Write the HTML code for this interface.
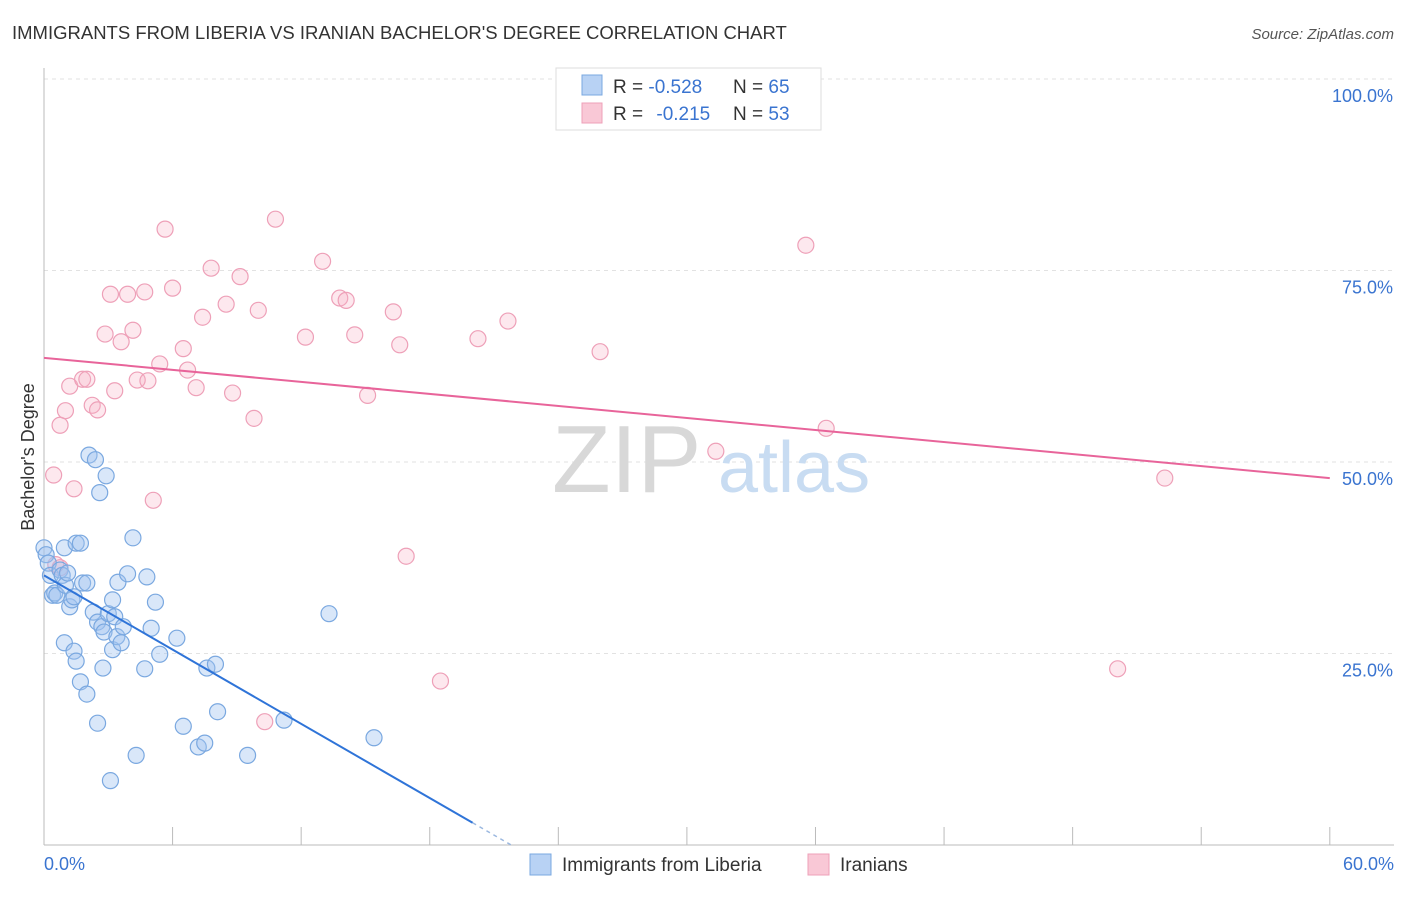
<!DOCTYPE html>
<html><head><meta charset="utf-8"><style>
body{margin:0;background:#fff;font-family:"Liberation Sans",sans-serif;}
svg text{font-family:"Liberation Sans",sans-serif;}
</style></head><body>
<svg id="chart" width="1406" height="892">
<text x="12" y="39" font-size="18.5" fill="#333">IMMIGRANTS FROM LIBERIA VS IRANIAN BACHELOR'S DEGREE CORRELATION CHART</text>
<text x="1394" y="39" font-size="15" fill="#555" font-style="italic" text-anchor="end">Source: ZipAtlas.com</text>
<g id="grid"></g>
<g>
<text x="552" y="492" font-size="96" font-family="Liberation Serif" fill="#d8d8d8">ZIP</text>
<text x="718" y="492" font-size="72" fill="#c8dcf2">atlas</text>
</g>
<line x1="44" y1="68" x2="44" y2="845" stroke="#bbb"/>
<line x1="44" y1="845" x2="1394" y2="845" stroke="#bbb"/>
<g id="xticks"></g>
<g id="yticks"></g>
<text x="44" y="870" font-size="18" fill="#3a74d0">0.0%</text>
<text x="1394" y="870" font-size="18" fill="#3a74d0" text-anchor="end">60.0%</text>
<text transform="translate(34,457) rotate(-90)" font-size="18" fill="#333" text-anchor="middle">Bachelor's Degree</text>
<g id="pink"></g>
<g id="blue"></g>
<g id="lines"></g>
<g>
<rect x="556" y="68" width="265" height="62" fill="#fff" stroke="#ddd"/>
<rect x="582" y="75" width="20" height="20" fill="#b8d2f4" stroke="#7aa8e0"/>
<rect x="582" y="103" width="20" height="20" fill="#f9c8d6" stroke="#eea0b8"/>
<text x="613" y="93" font-size="19" fill="#333">R = <tspan fill="#3a74d0">-0.528</tspan><tspan x="733">N = </tspan><tspan fill="#3a74d0">65</tspan></text>
<text x="613" y="120" font-size="19" fill="#333">R = <tspan fill="#3a74d0" dx="8">-0.215</tspan><tspan x="733">N = </tspan><tspan fill="#3a74d0">53</tspan></text>
</g>
<g>
<rect x="530" y="854" width="21" height="21" fill="#b8d2f4" stroke="#7aa8e0"/>
<text x="562" y="871" font-size="19" fill="#333">Immigrants from Liberia</text>
<rect x="808" y="854" width="21" height="21" fill="#f9c8d6" stroke="#eea0b8"/>
<text x="840" y="871" font-size="19" fill="#333">Iranians</text>
</g>
</svg>
<script>
const blueX=[0,0.1,0.2,0.3,0.4,0.5,0.6,0.75,0.85,0.95,1.0,1.1,1.2,1.3,1.4,1.5,1.7,1.8,2.0,0.95,1.4,1.5,1.7,2.0,2.1,2.3,2.4,2.5,2.5,2.6,2.7,2.75,2.8,2.9,3.0,3.1,3.2,3.2,3.3,3.4,3.45,3.6,3.7,3.9,4.15,4.3,4.7,4.8,5.0,5.2,5.4,6.2,6.5,7.2,7.5,7.6,8.0,8.1,9.5,11.2,13.3,15.4];
const blueY=[38.8,37.9,36.8,35.2,32.6,32.9,32.6,35.9,35.2,38.8,33.9,35.5,31.1,32.0,32.4,39.4,39.4,34.2,34.2,26.4,25.3,24.0,21.3,19.7,50.9,30.4,50.3,29.1,15.9,46.0,28.5,23.1,27.8,48.2,30.2,8.4,25.5,32.0,29.8,27.2,34.3,26.4,28.5,35.4,40.1,11.7,23.0,35.0,28.3,31.7,24.9,27.0,15.5,12.8,13.3,23.1,23.6,17.4,11.7,16.3,30.2,14.0];
const pinkX=[0.45,0.75,1.0,1.2,1.4,1.8,2.0,2.25,2.5,2.85,3.1,3.3,3.6,3.9,4.15,4.35,4.7,4.85,5.1,5.4,5.65,6.0,6.5,6.7,7.1,7.4,7.8,8.5,8.8,9.15,9.8,10.0,10.8,12.2,13.0,13.8,14.1,14.5,15.1,16.3,16.6,16.9,18.5,20.25,21.65,25.95,31.35,35.55,36.5,50.1,52.3,10.3,0.55,0.75];
const pinkY=[48.3,54.8,56.7,59.9,46.5,60.8,60.8,57.4,56.8,66.7,71.9,59.3,65.7,71.9,67.2,60.7,72.2,60.6,45.0,62.8,80.4,72.7,64.8,62.0,59.7,68.9,75.3,70.6,59.0,74.2,55.7,69.8,81.7,66.3,76.2,71.4,71.1,66.6,58.7,69.6,65.3,37.7,21.4,66.1,68.4,64.4,51.4,78.3,54.4,23.0,47.9,16.1,36.6,36.2];
const blueTrend=[[0,35.2],[20.0,2.9],[21.8,0]];
const pinkTrend=[[0,63.6],[60,47.9]];
const yTicks=[25,50,75,100];
const yTickLabels=["25.0%","50.0%","75.0%","100.0%"];
const xTicks=[0,6,12,18,24,30,36,42,48,54,60];
const X=v=>44+v*21.43, Y=v=>845-v*7.66;
const NS="http://www.w3.org/2000/svg";
function mk(t,a,p){const e=document.createElementNS(NS,t);for(const k in a)e.setAttribute(k,a[k]);p.appendChild(e);return e;}
const grid=document.getElementById('grid'),yt=document.getElementById('yticks'),xt=document.getElementById('xticks');
yTicks.forEach((v,i)=>{
 const l=mk('line',{x1:44,x2:1394,y1:Y(v),y2:Y(v),stroke:'#e2e2e2','stroke-dasharray':'4,4'},grid);
 
 
 const t=mk('text',{x:1393,y:Y(v)+23,'font-size':18,fill:'#3a74d0','text-anchor':'end'},yt);
 t.textContent=yTickLabels[i];
 
 
});
xTicks.forEach(v=>{
 const l=mk('line',{x1:X(v),x2:X(v),y1:827,y2:845,stroke:'#bbb'},xt);
 
 
});
const pg=document.getElementById('pink'),bg=document.getElementById('blue');
pinkX.forEach((x,i)=>{
 const c=mk('circle',{cx:X(x),cy:Y(pinkY[i]),r:8,fill:'rgba(248,180,200,0.3)',stroke:'#eea0b8','stroke-width':1.2},pg);
 
 
});
blueX.forEach((x,i)=>{
 const c=mk('circle',{cx:X(x),cy:Y(blueY[i]),r:8,fill:'rgba(160,196,240,0.4)',stroke:'#7aa8e0','stroke-width':1.2},bg);
 
 
});
const lg=document.getElementById('lines');
const b1=mk('line',{x1:X(blueTrend[0][0]),y1:Y(blueTrend[0][1]),x2:X(blueTrend[1][0]),y2:Y(blueTrend[1][1]),stroke:'#2f74d8','stroke-width':2},lg);


const b2=mk('line',{x1:X(blueTrend[1][0]),y1:Y(blueTrend[1][1]),x2:X(blueTrend[2][0]),y2:Y(blueTrend[2][1]),stroke:'#9bb8e0','stroke-width':1.5,'stroke-dasharray':'4,4'},lg);


const p1=mk('line',{x1:X(pinkTrend[0][0]),y1:Y(pinkTrend[0][1]),x2:X(pinkTrend[1][0]),y2:Y(pinkTrend[1][1]),stroke:'#e8649a','stroke-width':2},lg);


</script>
</body></html>
